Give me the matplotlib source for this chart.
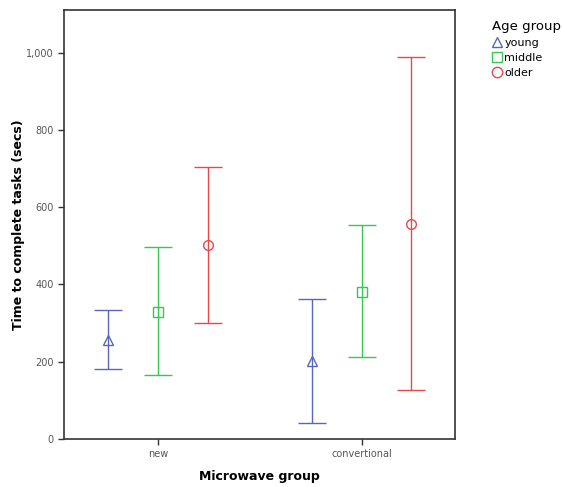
import numpy as np
import matplotlib
matplotlib.use("Agg")
from matplotlib import pyplot as plt
from matplotlib.lines import Line2D

groups = ["new", "convertional"]
ages = ["young", "middle", "older"]

# mean and error bar limits
means = {
    "young":  [256, 202],
    "middle": [328, 380],
    "older":  [502, 556],
}
lower = {
    "young":  [181, 41],
    "middle": [164, 211],
    "older":  [300, 127],
}
upper = {
    "young":  [334, 362],
    "middle": [496, 553],
    "older":  [704, 988],
}

colors = {"young": "#5a67b8", "middle": "#39c653", "older": "#e8484a"}
markers = {"young": "^", "middle": "s", "older": "o"}
offsets = {"young": -0.245, "middle": 0.0, "older": 0.245}

fig = plt.figure(figsize=(5.62, 4.87), dpi=100)
ax = fig.add_axes([0.114, 0.099, 0.696, 0.88])

x = np.arange(len(groups))
for age in ages:
    m = np.array(means[age])
    lo = m - np.array(lower[age])
    hi = np.array(upper[age]) - m
    ax.errorbar(x + offsets[age], m, yerr=[lo, hi], fmt=markers[age],
                color=colors[age], mfc="none", mec=colors[age], ms=7,
                mew=1.0, elinewidth=1.0, capsize=10, capthick=1.0)

ax.set_xlim(-0.46, 1.46)
ax.set_ylim(0, 1110)
ax.set_yticks([0, 200, 400, 600, 800, 1000])
ax.set_yticklabels(["0", "200", "400", "600", "800", "1,000"])
ax.set_xticks(x)
ax.set_xticklabels(groups)
ax.tick_params(labelsize=7, labelcolor="#555555", length=4, width=1, color="#333333")
for s in ax.spines.values():
    s.set_color("#333333")
    s.set_linewidth(1.2)

ax.set_ylabel("Time to complete tasks (secs)", fontsize=9, fontweight="bold", labelpad=1)
ax.set_xlabel("Microwave group", fontsize=9, fontweight="bold", labelpad=8)

handles = [Line2D([], [], linestyle="none", marker=markers[a], mfc="none",
                  mec=colors[a], ms=7.5, mew=1.0) for a in ages]
leg = fig.legend(handles, ages, loc="upper left", bbox_to_anchor=(0.862, 0.975),
                 frameon=False, fontsize=8, title="Age group", title_fontsize=9.5,
                 handlelength=0.8, handletextpad=0.3, labelspacing=0.45,
                 borderpad=0.2, alignment="left")

fig.savefig("out.png", dpi=100)
